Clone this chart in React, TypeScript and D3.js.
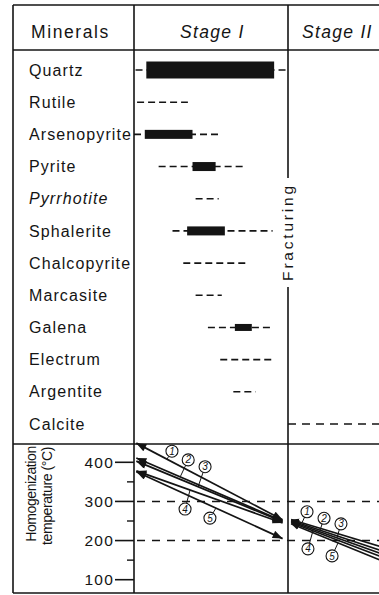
import React from "react";
import * as d3 from "d3";

// ---------- data ----------
const minerals = [
  "Quartz", "Rutile", "Arsenopyrite", "Pyrite", "Pyrrhotite", "Sphalerite",
  "Chalcopyrite", "Marcasite", "Galena", "Electrum", "Argentite", "Calcite",
];
const italicMinerals = ["Pyrrhotite"];
// paragenetic time, in stage units (0-1 = Stage I, 1-2 = Stage II)
const dashStart = [0.01, 0.02, 0.0, 0.16, 0.4, 0.25, 0.32, 0.4, 0.48, 0.56, 0.645, 1.0];
const dashEnd = [0.99, 0.35, 0.57, 0.73, 0.55, 0.9, 0.74, 0.57, 0.9, 0.9, 0.79, 1.62];
const barStart = [0.08, null, 0.07, 0.38, null, 0.345, null, null, 0.655, null, null, null];
const barEnd = [0.91, null, 0.38, 0.53, null, 0.59, null, null, 0.765, null, null, null];
const abundance = ["major", null, "common", "common", null, "common", null, null, "minor", null, null, null];

const stages = ["Stage I", "Stage II"];

// homogenization temperatures (°C)
const tempTicks = [100, 200, 300, 400];
const tempMinorTicks = [150, 250, 350];
const tempRefLines = [200, 300];
const seriesIds = ["1", "2", "3", "4", "5"];
const stage1From = [449, 411, 403, 378, 376];
const stage1To = [253, 250, 248, 245, 205];
const stage2From = [254, 251, 249, 246, 243];
const stage2To = [181, 171, 163, 155, 145];
// label anchor (stage units) on each line, and offset of the circled number
const s1LabelAt = [0.214, 0.3, 0.416, 0.364, 0.532];
const s1LabelOff = [[5, -8], [8, -17], [7, -20], [-5, 19], [-6, 10]];
const s2LabelAt = [1.091, 1.208, 1.318, 1.162, 1.325];
const s2LabelOff = [[5, -11], [4, -12], [4, -14], [-5, 18], [-6, 13]];

const FONT = "'Liberation Sans', Arial, Helvetica, sans-serif";
const INK = "#141414";

export default function App() {
  const W = 379, H = 595;
  const left = 13, top = 5, headerBottom = 50, tempTop = 444, bottom = 593;
  const colA = 134, colB = 288;

  const x = d3.scaleLinear().domain([0, 1]).range([colA, colB]);
  const yRow = d3.scalePoint<string>().domain(minerals).range([70, 424]);
  const thick = d3.scaleOrdinal<string, number>().domain(["major", "common", "minor"]).range([17, 9, 7]);
  const yT = d3.scaleLinear().domain([100, 400]).range([579.7, 462.3]);

  const lineGen = d3.line<[number, number]>().x((d) => x(d[0])).y((d) => yT(d[1]));

  const arrows = (from: number[], to: number[], x0: number, x1: number) =>
    seriesIds.map((id, i) => ({ id, pts: [[x0, from[i]], [x1, to[i]]] as [number, number][] }));
  const s1 = arrows(stage1From, stage1To, 0.015, 0.965);
  const s2 = arrows(stage2From, stage2To, 1.02, 1.63);

  const R = 6;
  const labelFor = (pts: [number, number][], at: number, off: number[]) => {
    const [a, b] = pts;
    const t = (at - a[0]) / (b[0] - a[0]);
    const temp = a[1] + t * (b[1] - a[1]);
    const ax = x(at), ay = yT(temp);
    const cx = ax + off[0], cy = ay + off[1];
    const len = Math.hypot(off[0], off[1]);
    const ex = cx - (off[0] / len) * R, ey = cy - (off[1] / len) * R;
    return { ax, ay, cx, cy, ex, ey };
  };

  const txt = { fontFamily: FONT, fill: INK } as const;

  return (
    <svg width={W} height={H} style={{ position: "absolute", left: 0, top: 0, background: "#fff" }}>
      <defs>
        <marker id="headBig" viewBox="0 0 10 8" refX="10" refY="4" markerWidth="11" markerHeight="8"
          markerUnits="userSpaceOnUse" orient="auto-start-reverse">
          <path d="M0,0 L10,4 L0,8 Z" fill={INK} />
        </marker>
        <marker id="headSmall" viewBox="0 0 10 8" refX="10" refY="4" markerWidth="8" markerHeight="7"
          markerUnits="userSpaceOnUse" orient="auto-start-reverse">
          <path d="M0,0 L10,4 L0,8 Z" fill={INK} />
        </marker>
      </defs>

      {/* table frame */}
      <g stroke={INK} strokeWidth={1.6} fill="none">
        <line x1={left} x2={W} y1={top} y2={top} />
        <line x1={left} x2={W} y1={headerBottom} y2={headerBottom} />
        <line x1={left} x2={W} y1={tempTop} y2={tempTop} />
        <line x1={left} x2={W} y1={bottom} y2={bottom} />
        <line x1={left} x2={left} y1={top} y2={bottom} />
        <line x1={colA} x2={colA} y1={top} y2={bottom} />
        <line x1={colB} x2={colB} y1={top} y2={178} />
        <line x1={colB} x2={colB} y1={287} y2={bottom} />
      </g>

      {/* headers */}
      <text x={31} y={38} fontSize={17.5} letterSpacing={1.6} style={txt}>
        Minerals
      </text>
      {stages.map((s, i) => (
        <text key={s} x={i === 0 ? 180 : 302} y={38} fontSize={17.5}
          letterSpacing={1.3} fontStyle="italic" style={txt}>
          {s}
        </text>
      ))}

      {/* fracturing */}
      <text transform={`translate(${colB + 5},232) rotate(-90)`} textAnchor="middle" fontSize={15.5}
        letterSpacing={2.8} style={txt}>
        Fracturing
      </text>

      {/* mineral rows */}
      {minerals.map((m, i) => {
        const y = yRow(m)!;
        const bs = barStart[i], be = barEnd[i], ab = abundance[i];
        return (
          <g key={m}>
            <text x={29} y={y} dy="0.35em" fontSize={16} letterSpacing={1.1}
              fontStyle={italicMinerals.includes(m) ? "italic" : "normal"} style={txt}>
              {m}
            </text>
            <line x1={x(dashStart[i])} x2={x(dashEnd[i])} y1={y} y2={y} stroke={INK} strokeWidth={1.6}
              strokeDasharray={dashStart[i] >= 1 ? "8,6" : "7,4"} />
            {bs !== null && be !== null && ab && (
              <rect x={x(bs)} width={x(be) - x(bs)} y={y - thick(ab) / 2} height={thick(ab)} fill={INK} />
            )}
          </g>
        );
      })}

      {/* temperature panel */}
      <g transform="translate(36,494) rotate(-90)">
        <text textAnchor="middle" fontSize={14} letterSpacing={-0.4} style={txt}>Homogenization</text>
      </g>
      <g transform="translate(52,496) rotate(-90)">
        <text textAnchor="middle" fontSize={14} letterSpacing={-0.4} style={txt}>temperature (°C)</text>
      </g>

      {tempTicks.map((t) => (
        <g key={t}>
          <line x1={115} x2={colA} y1={yT(t)} y2={yT(t)} stroke={INK} strokeWidth={1.6} />
          <text x={114} y={yT(t)} dy="0.36em" textAnchor="end" fontSize={15.5} letterSpacing={1.2} style={txt}>
            {t}
          </text>
        </g>
      ))}
      {tempMinorTicks.map((t) => (
        <line key={t} x1={127} x2={colA} y1={yT(t)} y2={yT(t)} stroke={INK} strokeWidth={1.4} />
      ))}
      {tempRefLines.map((t) => (
        <line key={t} x1={colA + 3} x2={W} y1={yT(t)} y2={yT(t)} stroke={INK} strokeWidth={1.5}
          strokeDasharray="8,7" />
      ))}

      {s1.map((a) => (
        <path key={"s1" + a.id} d={lineGen(a.pts)!} stroke={INK} strokeWidth={1.7} fill="none"
          markerStart="url(#headBig)" markerEnd="url(#headBig)" />
      ))}
      {s2.map((a) => (
        <path key={"s2" + a.id} d={lineGen(a.pts)!} stroke={INK} strokeWidth={1.6} fill="none"
          markerStart="url(#headSmall)" />
      ))}

      {[...s1.map((a, i) => labelFor(a.pts, s1LabelAt[i], s1LabelOff[i])),
        ...s2.map((a, i) => labelFor(a.pts, s2LabelAt[i], s2LabelOff[i]))].map((l, k) => (
        <g key={"lab" + k}>
          <line x1={l.ax} y1={l.ay} x2={l.ex} y2={l.ey} stroke={INK} strokeWidth={1} />
          <circle cx={l.cx} cy={l.cy} r={R} fill="#fff" stroke={INK} strokeWidth={1.1} />
          <text x={l.cx} y={l.cy} dy="0.36em" textAnchor="middle" fontSize={10} fontStyle="italic" style={txt}>
            {seriesIds[k % 5]}
          </text>
        </g>
      ))}
    </svg>
  );
}
